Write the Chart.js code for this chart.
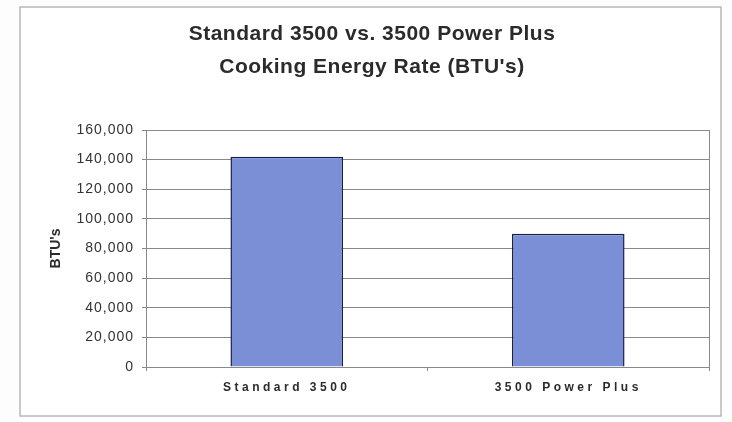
<!DOCTYPE html>
<html>
<head>
<meta charset="utf-8">
<script src="https://cdn.jsdelivr.net/npm/chart.js@4.4.1/dist/chart.umd.min.js"></script>
<style>
  html, body { margin: 0; padding: 0; background: #fdfdfd; }
  #wrap { width: 732px; height: 422px; }
</style>
</head>
<body>
<div id="wrap"><canvas id="chart" width="732" height="422"></canvas></div>
<script>
// chart data
const categories = ["Standard 3500", "3500 Power Plus"];
const btuValues = [142000, 90000];
const titleLines = ["Standard 3500 vs. 3500 Power Plus", "Cooking Energy Rate (BTU's)"];
const yAxisTitle = "BTU's";

const barColor = "#7b8fd6";
const barEdge = "#18204a";
const gridColor = "#888888";

//wrap a draw method so its text gets some letter spacing (and an optional x shift)
function spaced(obj, method, px, dx) {
  if (!obj || obj["_sp_" + method]) return;
  const orig = obj[method].bind(obj);
  obj[method] = function (...args) {
    const c = this.ctx;
    const prev = c.letterSpacing;
    c.save();
    if (dx) c.translate(dx, 0);
    c.letterSpacing = px;
    orig(...args);
    c.letterSpacing = prev;
    c.restore();
  };
  obj["_sp_" + method] = true;
}

//outer frame + plot area border
const framePlugin = {
  id: "frame",
  beforeDraw(chart) {
    const ctx = chart.ctx;
    ctx.save();
    ctx.fillStyle = "#ffffff";
    ctx.fillRect(20, 7, 701, 409);
    ctx.strokeStyle = "#b8b8b8";
    ctx.lineWidth = 1.5;
    ctx.strokeRect(20, 7, 701, 409);
    ctx.restore();

    spaced(chart.scales.x, "drawLabels", "3.5px");
    spaced(chart.scales.y, "drawLabels", "1px");
    spaced(chart.titleBlock, "draw", "0.5px", 7);
  },
  afterDatasetsDraw(chart) {
    const a = chart.chartArea;
    const ctx = chart.ctx;
    ctx.save();
    ctx.strokeStyle = gridColor;
    ctx.lineWidth = 1;
    ctx.beginPath();
    ctx.moveTo(Math.round(a.right) + 0.5, a.top);
    ctx.lineTo(Math.round(a.right) + 0.5, a.bottom);
    ctx.stroke();
    ctx.restore();
  },
};

new Chart(document.getElementById("chart"), {
  type: "bar",
  plugins: [framePlugin],
  data: {
    labels: categories,
    datasets: [
      {
        data: btuValues,
        backgroundColor: barColor,
        borderColor: barEdge,
        borderWidth: 1.5,
        categoryPercentage: 0.4,
        barPercentage: 1,
      },
    ],
  },
  options: {
    responsive: false,
    animation: false,
    layout: { padding: { left: 21, right: 23, top: 8, bottom: 8 } },
    plugins: {
      legend: { display: false },
      tooltip: { enabled: false },
      title: {
        display: true,
        text: titleLines,
        color: "#2b2b2b",
        font: { family: "'Liberation Sans', Arial, sans-serif", size: 21, weight: "bold", lineHeight: 33 / 21 },
        padding: { top: 9.5, bottom: 46.5 },
      },
    },
    scales: {
      x: {
        offset: true,
        grid: { display: true, drawOnChartArea: false, offset: true, color: gridColor, tickLength: 4 },
        border: { color: gridColor },
        ticks: {
          color: "#2b2b2b",
          padding: 9,
          font: { family: "'Liberation Sans', Arial, sans-serif", size: 12, weight: "bold" },
        },
        afterFit(scale) { scale.height = 422 - 8 - 367; },
      },
      y: {
        min: 0,
        max: 160000,
        ticks: {
          stepSize: 20000,
          color: "#333333",
          padding: 8,
          font: { family: "'Liberation Sans', Arial, sans-serif", size: 14 },
          callback: (v) => v.toLocaleString("en-US"),
        },
        grid: { color: gridColor, tickLength: 4 },
        border: { color: gridColor },
        title: {
          display: true,
          text: yAxisTitle,
          color: "#2b2b2b",
          font: { family: "'Liberation Sans', Arial, sans-serif", size: 14, weight: "bold" },
          padding: { top: 27, bottom: 0 },
        },
        afterFit(scale) { scale.width = 146 - 21; },
      },
    },
  },
});
</script>
</body>
</html>
